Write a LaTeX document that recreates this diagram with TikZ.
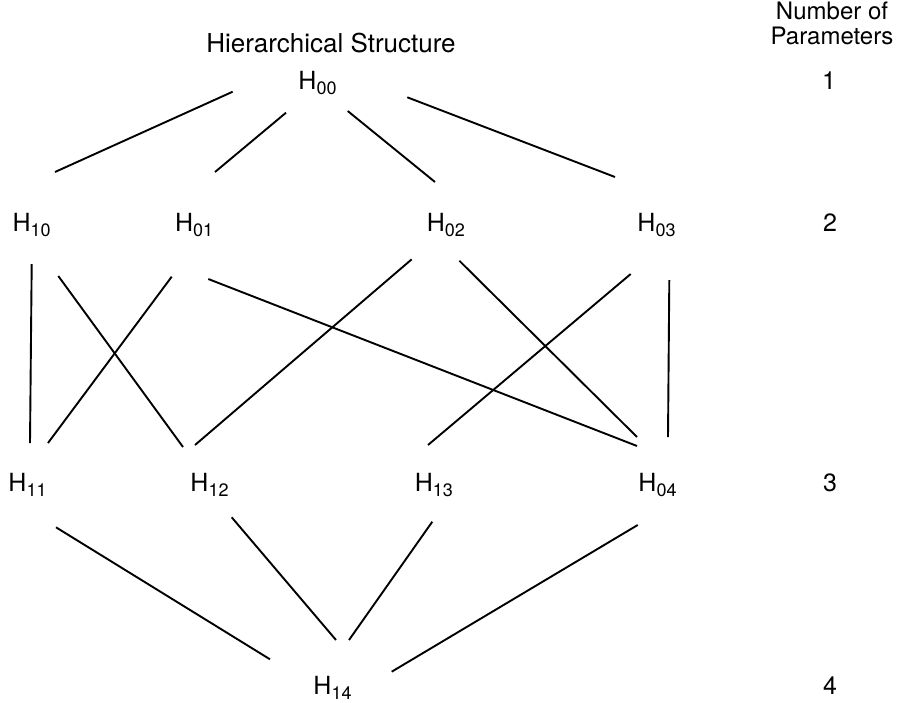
\documentclass[tikz,border=0pt]{standalone}
\usepackage{fontspec}
\setmainfont{TeX Gyre Heros}
\newcommand{\subnum}[1]{\raisebox{-5pt}{\fontsize{18}{18}\selectfont #1}}
\begin{document}
\begin{tikzpicture}[x=1pt,y=-1pt,
  lab/.style={font=\fontsize{25}{25}\selectfont, inner sep=0pt, anchor=base},
  ttl/.style={font=\fontsize{26}{30}\selectfont, inner sep=0pt, anchor=base, align=center},
  head/.style={font=\fontsize{24}{28}\selectfont, inner sep=0pt, anchor=base, align=center},
  conn/.style={line width=1.9pt}]
\useasboundingbox (0,0) rectangle (897,702);
% title and column head
\node[ttl] (title) at (331,52.3) {Hierarchical Structure};
\node[head] (nump1) at (832,19.5) {Number of};
\node[head] (nump2) at (832,44.5) {Parameters};
% hierarchy nodes
\node[lab] (H00) at (317.5,89) {H\subnum{00}};
\node[lab] (H10) at (31.7,231.7) {H\subnum{10}};
\node[lab] (H01) at (194.2,231.7) {H\subnum{01}};
\node[lab] (H02) at (445.8,231.7) {H\subnum{02}};
\node[lab] (H03) at (656.5,231.7) {H\subnum{03}};
\node[lab] (H11) at (27.5,491.7) {H\subnum{11}};
\node[lab] (H12) at (209.5,491.7) {H\subnum{12}};
\node[lab] (H13) at (433.8,491.7) {H\subnum{13}};
\node[lab] (H04) at (657.5,491.7) {H\subnum{04}};
\node[lab] (H14) at (332.5,694.5) {H\subnum{14}};
% parameter counts
\node[lab] (n1) at (829,89) {1};
\node[lab] (n2) at (830,231.7) {2};
\node[lab] (n3) at (830,491.7) {3};
\node[lab] (n4) at (830,694.5) {4};
% connectors
\draw[conn] ([shift={(-84.8,2.7)}]H00.base) -- ([shift={(23.3,-59.7)}]H10.base);
\draw[conn] ([shift={(-31.5,23.7)}]H00.base) -- ([shift={(20.8,-59.7)}]H01.base);
\draw[conn] ([shift={(30.2,22)}]H00.base) -- ([shift={(-10.8,-49.7)}]H02.base);
\draw[conn] ([shift={(89.8,8.3)}]H00.base) -- ([shift={(-41.5,-54.7)}]H03.base);
\draw[conn] ([shift={(0,32.3)}]H10.base) -- ([shift={(2.5,-48.7)}]H11.base);
\draw[conn] ([shift={(26.6,44.3)}]H10.base) -- ([shift={(-26.5,-44.7)}]H12.base);
\draw[conn] ([shift={(-22.5,45)}]H01.base) -- ([shift={(20.5,-48.7)}]H11.base);
\draw[conn] ([shift={(14.1,47.3)}]H01.base) -- ([shift={(-20.5,-45.7)}]H04.base);
\draw[conn] ([shift={(-34.1,27.6)}]H02.base) -- ([shift={(-14.5,-46.7)}]H12.base);
\draw[conn] ([shift={(13.5,29)}]H02.base) -- ([shift={(-20.5,-54.7)}]H04.base);
\draw[conn] ([shift={(-25.8,42.3)}]H03.base) -- ([shift={(-5.8,-46.7)}]H13.base);
\draw[conn] ([shift={(12.8,48.3)}]H03.base) -- ([shift={(10.5,-54.7)}]H04.base);
\draw[conn] ([shift={(28.5,35.6)}]H11.base) -- ([shift={(-62.5,-35.2)}]H14.base);
\draw[conn] ([shift={(22.2,25.6)}]H12.base) -- ([shift={(3.5,-54.5)}]H14.base);
\draw[conn] ([shift={(-1.5,30)}]H13.base) -- ([shift={(16.5,-54.5)}]H14.base);
\draw[conn] ([shift={(-19.8,33.3)}]H04.base) -- ([shift={(59.2,-22.8)}]H14.base);
\end{tikzpicture}
\end{document}
